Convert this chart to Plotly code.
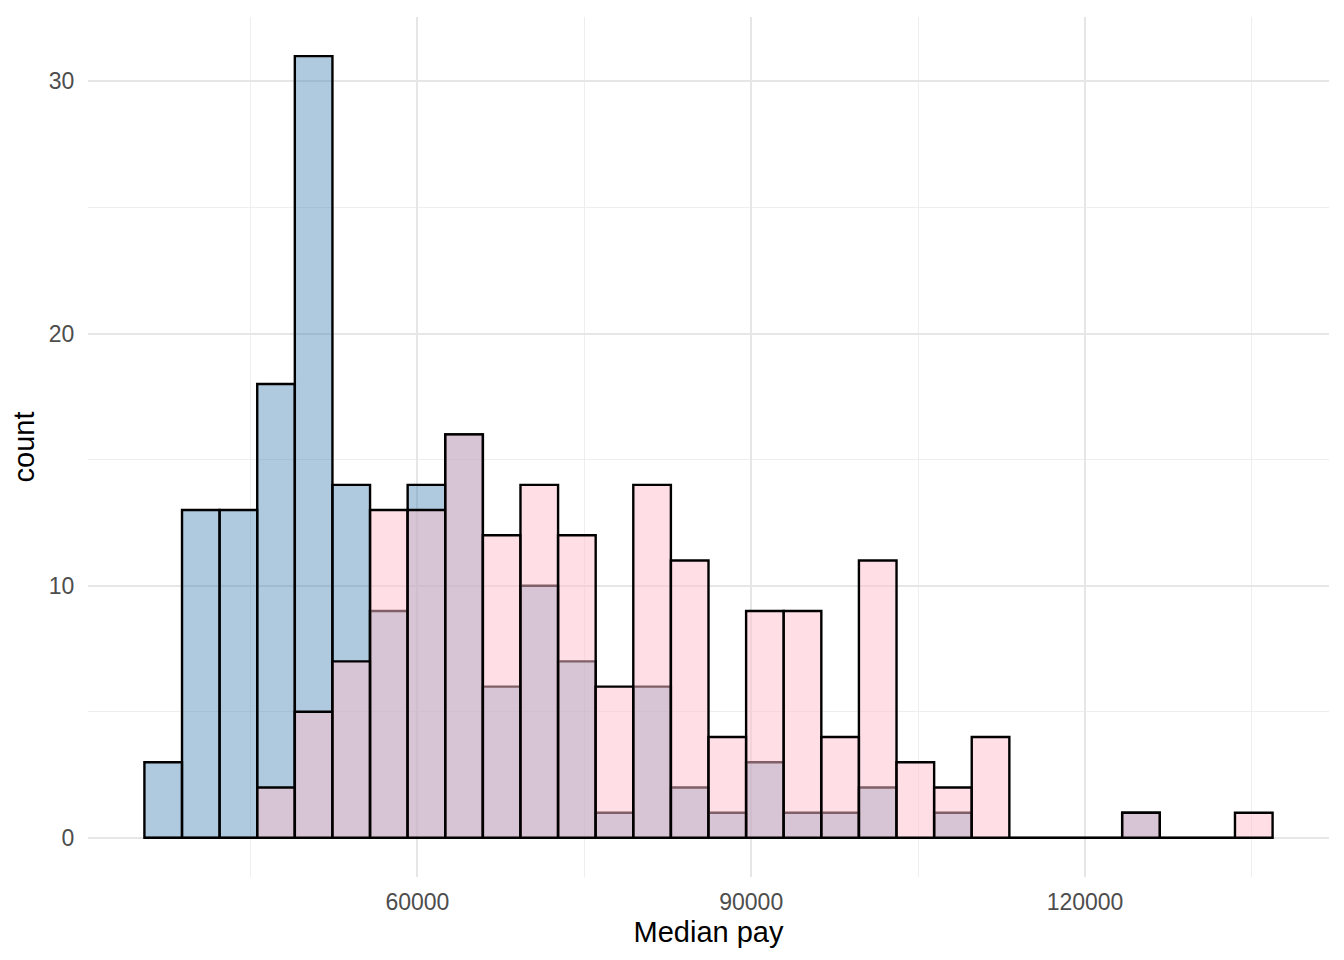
import plotly.graph_objects as go

# histogram bins (30 bins, equal width)
bin_start = 35460
bin_width = 3380
n_bins = 30

# counts per bin
blue_counts = [3, 13, 13, 18, 31, 14, 9, 14, 16, 6, 10, 7, 1, 6, 2,
               1, 3, 1, 1, 2, 0, 1, 0, 0, 0, 0, 1, 0, 0, 0]
pink_counts = [0, 0, 0, 2, 5, 7, 13, 13, 16, 12, 14, 12, 6, 14, 11,
               4, 9, 9, 4, 11, 3, 2, 4, 0, 0, 0, 1, 0, 0, 1]

x_ticks = [60000, 90000, 120000]
x_minor = [45000, 75000, 105000, 135000]
y_ticks = [0, 10, 20, 30]
y_minor = [5, 15, 25]

centers = [bin_start + bin_width * (i + 0.5) for i in range(n_bins)]
x_lo = bin_start
x_hi = bin_start + bin_width * n_bins
pad = (x_hi - x_lo) * 0.05
y_max = max(max(blue_counts), max(pink_counts))

font = "Liberation Sans, Arial, Helvetica, sans-serif"

fig = go.Figure()

# baseline drawn by the zero-height bars in ggplot
fig.add_trace(go.Scatter(
    x=[x_lo, x_hi], y=[0, 0], mode="lines",
    line=dict(color="black", width=2.4), hoverinfo="skip", showlegend=False
))

fig.add_trace(go.Bar(
    x=centers, y=blue_counts, width=bin_width,
    marker=dict(color="rgba(70,130,180,0.43)", line=dict(color="black", width=2.4)),
    showlegend=False
))

fig.add_trace(go.Bar(
    x=centers, y=pink_counts, width=bin_width,
    marker=dict(color="rgba(255,192,203,0.5)", line=dict(color="black", width=2.4)),
    showlegend=False
))

# page body has an 8px margin, so the figure is 8px smaller each way
fig.update_layout(
    width=1336, height=952,
    barmode="overlay",
    plot_bgcolor="white", paper_bgcolor="white",
    margin=dict(l=80, r=15, t=9, b=83),
    font=dict(family=font, color="#4D4D4D", size=23),
    xaxis=dict(
        range=[x_lo - pad, x_hi + pad],
        tickvals=x_ticks, ticktext=[str(v) for v in x_ticks],
        showgrid=True, gridcolor="#E6E6E6", gridwidth=2,
        minor=dict(tickvals=x_minor, showgrid=True, gridcolor="#EEEEEE", gridwidth=1),
        zeroline=False, showline=False, automargin=False,
        ticks="outside", ticklen=4, tickcolor="rgba(0,0,0,0)",
        title=dict(text="Median pay", font=dict(size=29, color="black"), standoff=8),
    ),
    yaxis=dict(
        range=[-y_max * 0.05, y_max * 1.05],
        tickvals=y_ticks, ticktext=[str(v) for v in y_ticks],
        showgrid=True, gridcolor="#E6E6E6", gridwidth=2,
        minor=dict(tickvals=y_minor, showgrid=True, gridcolor="#EEEEEE", gridwidth=1),
        zeroline=False, showline=False, automargin=False,
        ticks="outside", ticklen=8, tickcolor="rgba(0,0,0,0)",
        title=dict(text="count", font=dict(size=29, color="black"), standoff=5),
    ),
)

fig.write_html("out.html")
